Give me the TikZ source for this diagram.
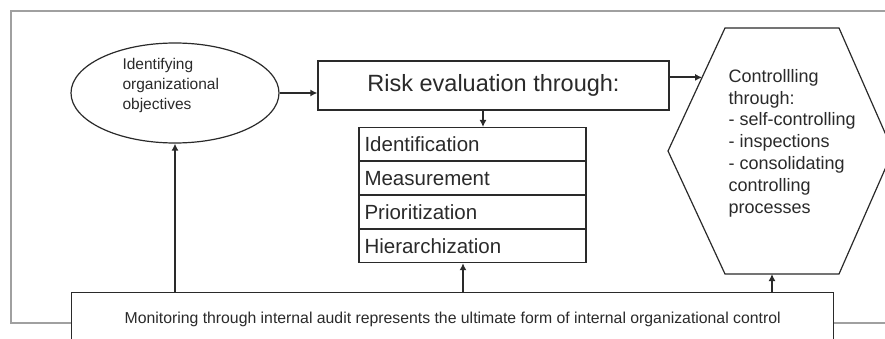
\documentclass[tikz,border=0pt]{standalone}
\usepackage{fontspec}
\setmainfont{Liberation Sans}
\usetikzlibrary{arrows.meta,shapes.geometric,calc,positioning}
\definecolor{framegray}{HTML}{A0A0A0}
\definecolor{inkc}{HTML}{2A2A2A}
\tikzset{
  frameline/.style={draw=framegray,line width=1.6pt},
  boxc/.style={draw=inkc,line width=1.3pt,fill=white,inner sep=0pt},
  rowbox/.style={boxc,minimum width=227pt,minimum height=32.75pt,anchor=north,
    text width=216pt,align=left,font=\fontsize{20.5}{22}\selectfont},
  arr/.style={draw=inkc,line width=1.8pt,-{Latex[length=7pt,width=7pt]}},
  txt/.style={text=inkc}
}
\begin{document}
\begin{tikzpicture}[x=1pt,y=-1pt]
\useasboundingbox (0,0) rectangle (885,339);
\clip (0,0) rectangle (885,339);
% outer frame
\draw[frameline] (890,11) -- (11,11) -- (11,323) -- (890,323);
% ellipse
\node[ellipse,draw=inkc,line width=1.2pt,fill=white,minimum width=208pt,minimum height=100pt] (ell) at (175,93) {};
\node[txt,anchor=west,align=left,font=\fontsize{15.5}{20}\selectfont] (elltxt) at (119,85) {Identifying\\organizational\\objectives};
% risk box
\node[boxc,minimum width=351pt,minimum height=49pt,txt,font=\fontsize{23.5}{25}\selectfont] (risk) at (493.5,85.5) {Risk evaluation through:};
% stacked boxes
\node[rowbox,txt] (s1) at (472.5,127) {Identification};
\node[rowbox,txt] (s2) at (s1.south) {Measurement};
\node[rowbox,txt] (s3) at (s2.south) {Prioritization};
\node[rowbox,txt] (s4) at (s3.south) {Hierarchization};
% hexagon
\coordinate (hTL) at (725,28);
\coordinate (hTR) at (839,28);
\coordinate (hR) at (893,151);
\coordinate (hBR) at (839,274);
\coordinate (hBL) at (725,274);
\coordinate (hL) at (668,151);
\draw[draw=inkc,line width=1.2pt,fill=white] (hTL) -- (hTR) -- (hR) -- (hBR) -- (hBL) -- (hL) -- cycle;
\coordinate (hexin) at ($(hTL)!0.4016!(hL)$);
\coordinate (hexbot) at (772,274);
\node[txt,anchor=west,align=left,font=\fontsize{18}{21.8}\selectfont] (hex) at (725,143) {Controllling\\through:\\- self-controlling\\- inspections\\- consolidating\\controlling\\processes};
% monitoring box
\node[boxc,anchor=north west,minimum width=762pt,minimum height=54pt,txt,font=\fontsize{15.8}{17}\selectfont] (mon) at (71,292) {Monitoring through internal audit represents the ultimate form of internal organizational control};
% connectors
\draw[arr] (ell.east) -- (ell.east -| risk.west);
\draw[arr] (hexin -| risk.east) -- (hexin);
\draw[arr] ([xshift=10.5pt]s1.north |- risk.south) -- ([xshift=10.5pt]s1.north);
\draw[arr] (ell.south |- mon.north) -- (ell.south);
\draw[arr] ([xshift=-9.5pt]s4.south |- mon.north) -- ([xshift=-9.5pt]s4.south);
\draw[arr] (hexbot |- mon.north) -- (hexbot);
\end{tikzpicture}
\end{document}
